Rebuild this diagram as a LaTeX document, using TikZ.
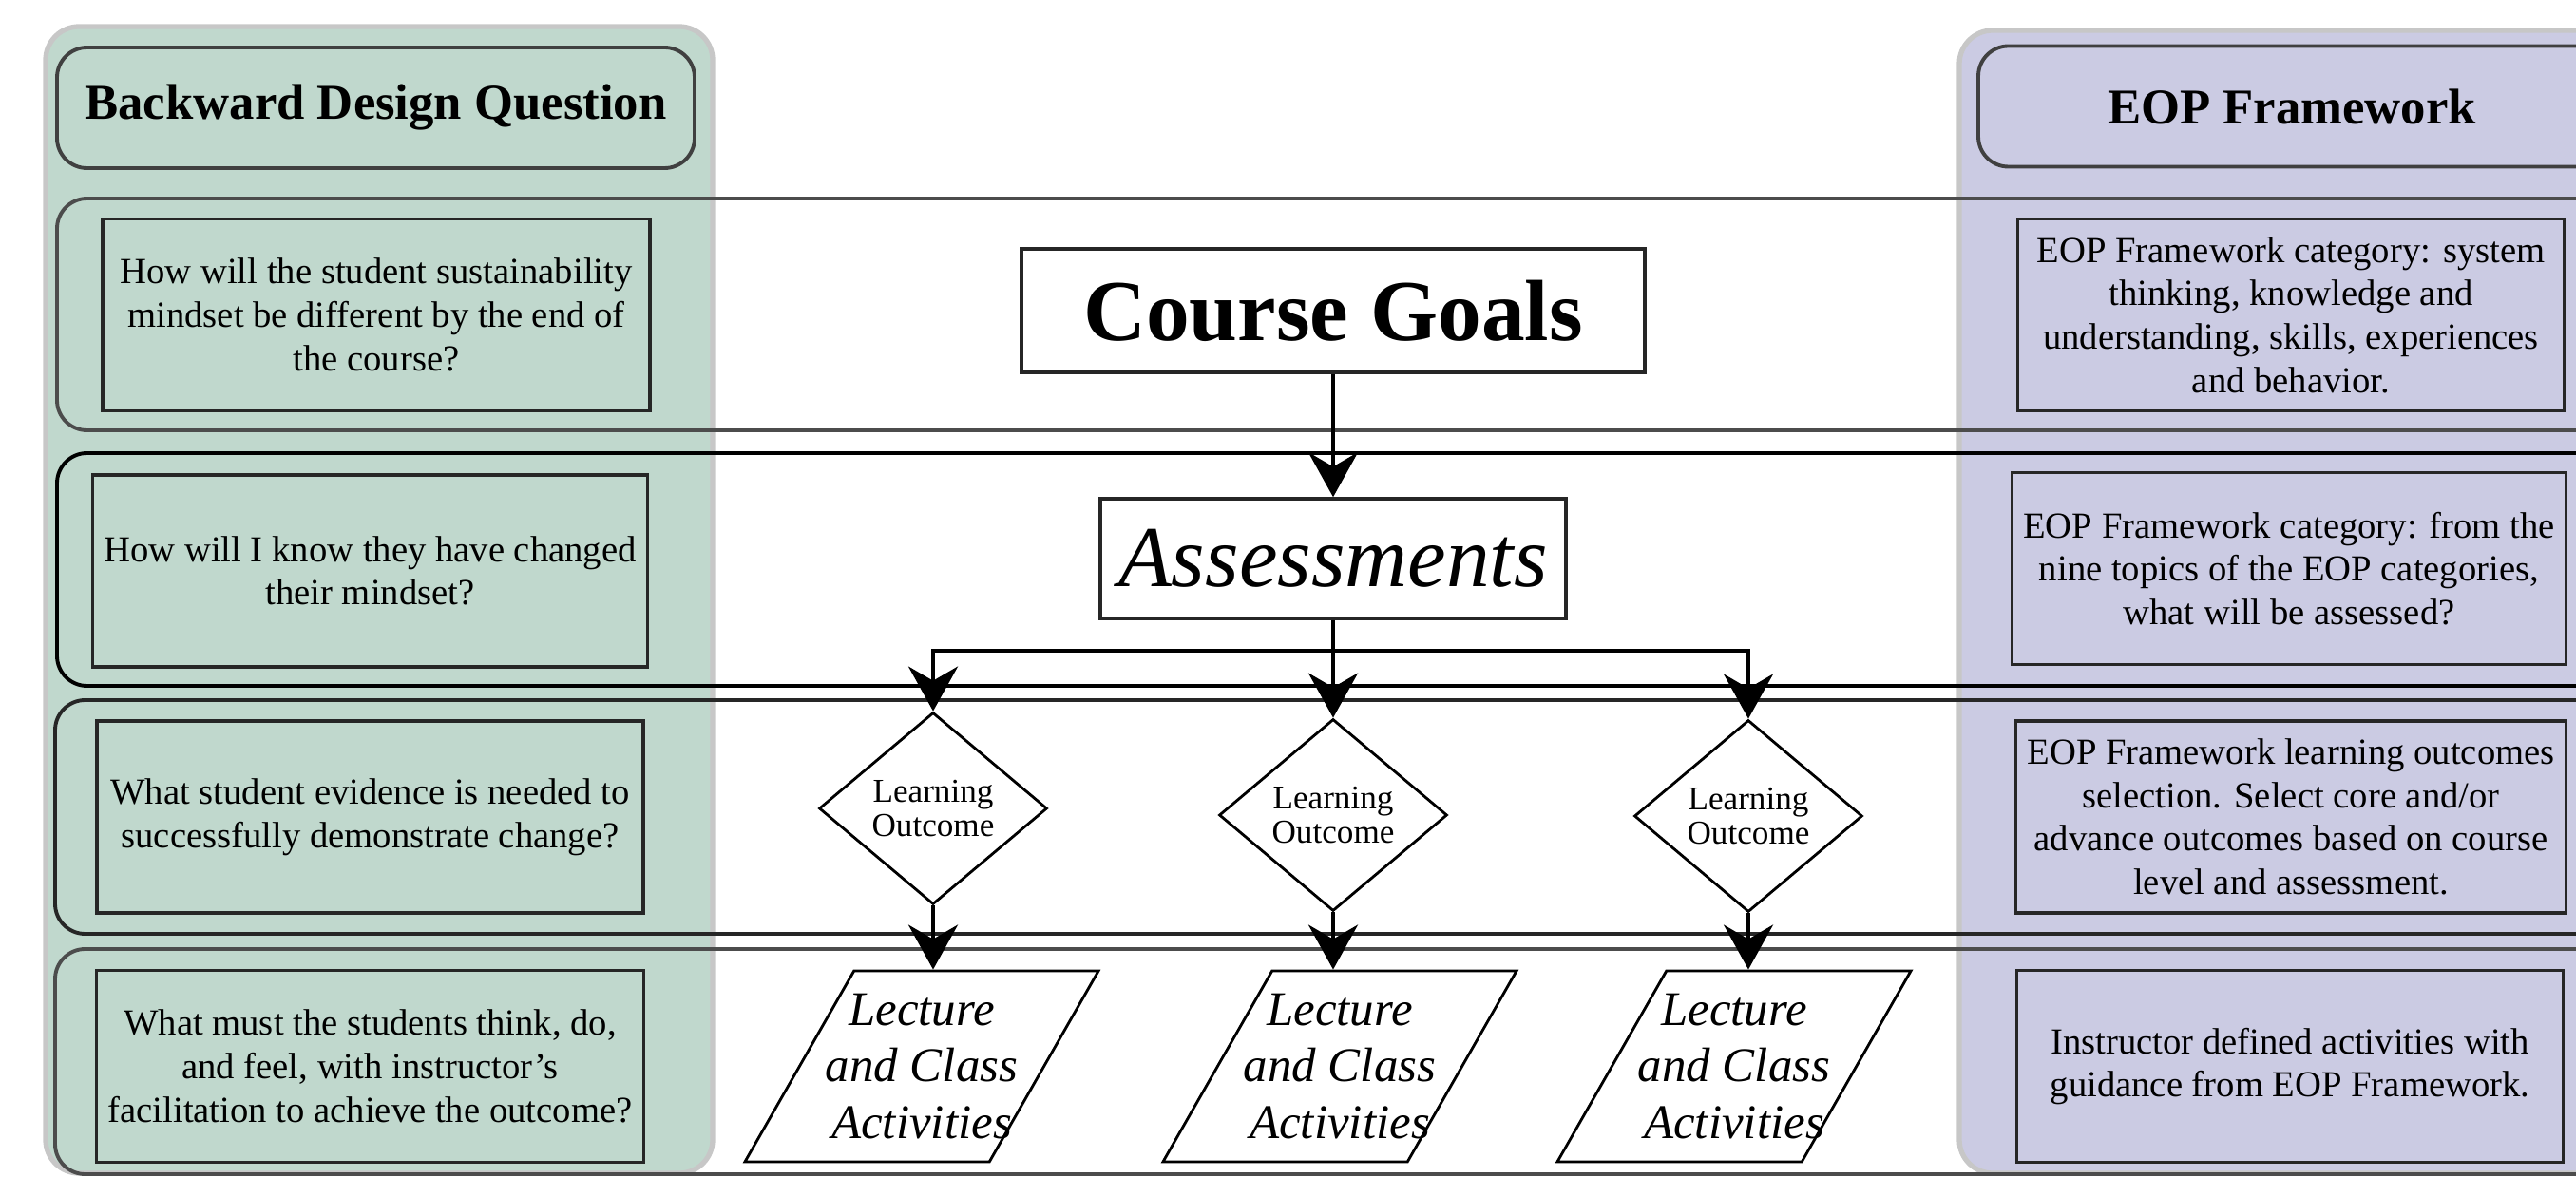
\documentclass[tikz,border=0pt]{standalone}
\usepackage{fontspec}
\setmainfont{Liberation Serif}
\usetikzlibrary{arrows.meta,positioning,shapes.geometric}
\definecolor{bdq}{HTML}{C0D8CD}
\definecolor{eop}{HTML}{CBCBE3}

\begin{document}
\begin{tikzpicture}[
  panel/.style={draw=black!22,line width=1.5pt,rounded corners=10pt},
  head/.style={draw=black!75,line width=1.1pt,rounded corners=9pt,minimum height=1.27cm,font=\fontsize{15}{18}\selectfont\bfseries},
  band/.style={line width=1.1pt,rounded corners=9pt},
  qbox/.style={draw=black!85,line width=0.9pt,minimum width=5.75cm,minimum height=2.02cm,align=center,font=\fontsize{11}{13}\selectfont},
  title/.style={draw=black!85,fill=white,line width=1pt,minimum height=1.3cm},
  lo/.style={diamond,aspect=1.2,draw,line width=0.8pt,fill=white,minimum width=2.4cm,minimum height=2.02cm,inner sep=0pt,align=center,font=\fontsize{10}{10.5}\selectfont},
  act/.style={trapezium,trapezium left angle=57,trapezium right angle=123,trapezium stretches body,draw,line width=0.8pt,fill=white,inner xsep=-0.3cm,minimum height=2.01cm,align=center,font=\fontsize{14.5}{17}\selectfont\itshape},
  arr/.style={line width=1.2pt,-{Stealth[length=4.7mm,width=5.2mm,inset=1.5mm]}},
]
  \useasboundingbox (0,0) rectangle (27.11,12.38);
  \clip (0,0) rectangle (27.11,12.38);

  % side panels
  \draw[panel,fill=bdq] (0.48,0.03) rectangle (7.50,12.10);
  \draw[panel,fill=eop] (20.62,0.03) rectangle (28.00,12.06);

  % row bands, open to the right
  \draw[band,draw=black!70] (28,10.29) -- (0.60,10.29) -- (0.60,7.85) -- (28,7.85);
  \draw[band,draw=black] (28,7.61) -- (0.60,7.61) -- (0.60,5.16) -- (28,5.16);
  \draw[band,draw=black!85] (28,5.01) -- (0.58,5.01) -- (0.58,2.55) -- (28,2.55);
  \draw[band,draw=black!70] (28,2.39) -- (0.58,2.39) -- (0.58,0.02) -- (28,0.02);

  \node[head,minimum width=6.71cm] (bdqhead) at (3.955,11.245) {Backward Design Question};
  \node[head,minimum width=6.6cm] (eophead) at (24.12,11.26) {EOP Framework};

  \node[qbox,minimum width=5.76cm] (q1) at (3.96,9.065) {How will the student sustainability\\mindset be different by the end of\\the course?};
  \node[qbox] (q2) at (3.895,6.37) {How will I know they have changed\\their mindset?};
  \node[qbox] (q3) at (3.895,3.78) {What student evidence is needed to\\successfully demonstrate change?};
  \node[qbox] (q4) at (3.895,1.155) {What must the students think, do,\\and feel, with instructor's\\facilitation to achieve the outcome?};

  \node[qbox] (e1) at (24.11,9.065) {EOP Framework category: system\\thinking, knowledge and\\understanding, skills, experiences\\and behavior.};
  \node[qbox] (e2) at (24.09,6.395) {EOP Framework category: from the\\nine topics of the EOP categories,\\what will be assessed?};
  \node[qbox] (e3) at (24.11,3.78) {EOP Framework learning outcomes\\selection. Select core and/or\\advance outcomes based on course\\level and assessment.};
  \node[qbox] (e4) at (24.10,1.155) {Instructor defined activities with\\guidance from EOP Framework.};

  \node[title,minimum width=6.56cm,font=\fontsize{26}{30}\selectfont\bfseries] (goals) at (14.03,9.11) {Course Goals};
  \node[title,minimum width=4.9cm,minimum height=1.26cm,font=\fontsize{26}{30}\selectfont\itshape] (assess) at (14.03,6.50) {Assessments};

  \node[lo] (lo1) at (9.82,3.87) {Learning\\Outcome};
  \node[lo] (lo2) at (14.03,3.80) {Learning\\Outcome};
  \node[lo] (lo3) at (18.40,3.79) {Learning\\Outcome};

  \node[act] (act1) at (9.70,1.155) {Lecture\\and Class\\Activities};
  \node[act] (act2) at (14.10,1.155) {Lecture\\and Class\\Activities};
  \node[act] (act3) at (18.25,1.155) {Lecture\\and Class\\Activities};

  \coordinate (split) at (14.03,5.53);
  \draw[arr] (goals) -- (assess);
  \draw[arr] (assess) -- (lo2);
  \draw[arr] (split) -| (lo1);
  \draw[arr] (split) -| (lo3);
  \draw[arr] (lo1) -- (lo1.south |- act1.north);
  \draw[arr] (lo2) -- (lo2.south |- act2.north);
  \draw[arr] (lo3) -- (lo3.south |- act3.north);
\end{tikzpicture}
\end{document}
